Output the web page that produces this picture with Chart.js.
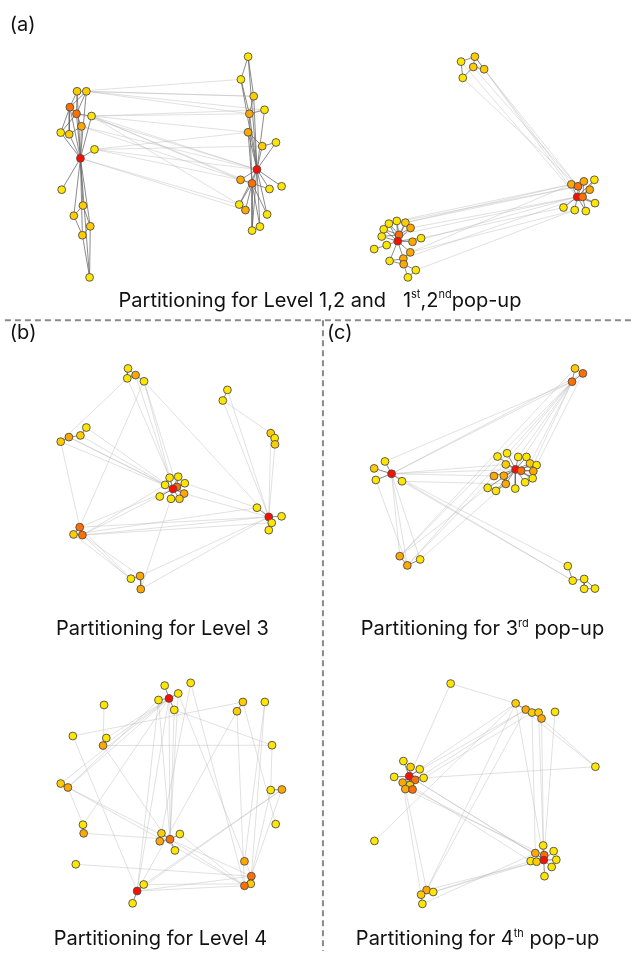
<!DOCTYPE html>
<html>
<head>
<meta charset="utf-8">
<script src="https://cdn.jsdelivr.net/npm/chart.js@4/dist/chart.umd.min.js"></script>
<style>
  html, body { margin: 0; padding: 0; background: #ffffff; }
  #wrap { width: 638px; height: 956px; position: relative; }
</style>
</head>
<body>
<div id="wrap"><canvas id="graph" width="638" height="956"></canvas></div>
<script>
// Node layouts: [x, y, level]; level 0 = leaf ... 4 = cluster head
const levelColors = ['#ffe600', '#ffcc00', '#ffa800', '#ff7000', '#ff0d00'];

// (a) Level 1,2 and 1st,2nd pop-up
const nodesA = [
  [73.3,87.3,1],[82.7,87.3,1],[66,103.3,3],[72.7,110,3],[88,112.3,0],[77.7,122.7,2],[56.7,129,0],[65.3,130.7,1],
  [91,146,0],[76.7,155,4],[57.7,186.7,0],[79.3,202.7,1],[70,213,1],[86.7,223.7,1],[78.7,232.7,1],[86,275.3,0],
  [247,52.3,0],[239.7,75.3,0],[252.7,92.3,1],[248.3,110,2],[263.7,106,0],[247,128.7,2],[261.3,142.7,1],[275.3,139,0],
  [256,166.3,4],[239.3,176.7,2],[251,180.3,3],[268.7,186,0],[281,183.3,0],[238,201.7,0],[244.3,207.3,2],[266.3,211.7,0],
  [259,224,0],[251,228,0],
  [463.3,57.3,0],[477.3,52.3,1],[475.7,62.7,1],[486.7,65,1],[465,73.7,0],
  [575.3,181.3,2],[582,183.3,3],[588,178.3,2],[598.7,176.7,0],[594,186.7,2],[581.3,194,4],[586.7,194,3],[599.3,200.3,0],
  [567.3,204.7,0],[578.7,207.3,0],[590,208.3,0],
  [398,218.3,0],[390,221,0],[406.7,220,1],[384.7,226.7,0],[412,225.3,2],[382.7,234,0],[400.3,232.3,3],[422.7,235.7,0],
  [399,238.7,4],[414,239.3,2],[387.7,242.7,0],[375,246.7,0],[411.7,250,2],[404.7,256.3,2],[390.7,258.7,0],[405,262,2],
  [417.3,268,0],[409.3,275.3,0]
];
const strongA = [
  [9,0],[9,1],[9,2],[9,3],[9,4],[9,5],[9,6],[9,7],[9,8],[9,10],[9,11],[9,12],[9,13],[9,14],[9,15],
  [0,3],[1,3],[1,2],[3,4],[2,3],[2,6],[2,7],[3,6],[3,5],[5,7],[11,12],[11,13],[12,14],[13,14],[13,15],[14,15],[0,2],
  [16,17],[16,18],[16,24],[17,24],[18,24],[19,24],[20,24],[20,19],[21,24],[22,24],[23,24],[22,23],[24,25],[24,26],
  [24,27],[24,28],[24,29],[26,25],[26,27],[26,29],[26,30],[26,31],[26,32],[26,33],[24,32],[24,33],[24,31],[21,22],
  [18,19],[17,19],[26,21],[26,19],
  [34,35],[34,38],[35,36],[35,37],[36,37],[36,38],
  [44,39],[44,40],[44,41],[44,42],[44,43],[44,45],[44,46],[44,47],[44,48],[44,49],[45,41],[45,42],[45,43],[45,46],
  [45,49],[40,39],[40,41],
  [58,50],[58,51],[58,52],[58,53],[58,54],[58,55],[58,56],[58,57],[58,59],[58,60],[58,62],[58,63],[58,64],
  [56,50],[56,51],[56,52],[56,53],[56,54],[56,55],[60,61],[62,63],[63,65],[63,64],[65,66],[65,67],[66,67],[64,65]
];
const weakA = [
  [1,18],[1,19],[4,19],[4,21],[4,24],[4,25],[4,26],[8,21],[8,24],[9,29],[5,26],[3,24],[0,17],[8,22],
  [1,20],[4,20],[8,25],[9,30],[5,24],[4,29],[0,18],
  [35,39],[36,40],[37,44],[38,40],[34,44],[37,40],
  [50,39],[52,40],[54,44],[57,47],[59,44],[62,39],[63,45],[56,44],[52,41],[66,48],[62,48],[51,40]
];

// (b) Level 3
const nodesB = [
  [125,367.3,0],[124.3,377.3,0],[132.7,374,2],[141.3,380.3,0],[226,389,0],[221.3,399.7,0],[82.7,427,0],[76.7,435,1],
  [65,436.7,2],[56.7,441.3,1],[270,432.7,1],[274,437.7,0],[274.3,444,1],[167.3,477.7,0],[176,476.7,0],[162.7,485,0],
  [182.7,483.3,0],[174.7,487,3],[170.7,489,4],[182,493.7,2],[157.3,496.7,0],[168.7,499,0],[177.3,499,1],[256,508,0],
  [268,517.3,4],[281,516.7,0],[271,523.3,0],[268,530.7,0],[76,527.7,3],[69.7,535,1],[78.7,535.7,3],[137.3,577,2],
  [128,579.7,0],[138,590.3,2]
];
const strongB = [
  [0,1],[1,2],[2,3],[0,2],[4,5],[6,7],[7,8],[8,9],[10,11],[11,12],[18,13],[18,14],[18,15],[18,16],[18,17],[18,19],
  [18,20],[18,21],[18,22],[17,16],[17,19],[17,14],[24,23],[24,25],[24,26],[26,27],[28,29],[28,30],[29,30],[31,32],[31,33]
];
const weakB = [
  [1,9],[3,28],[3,24],[2,18],[3,18],[3,17],[1,13],[9,28],[6,18],[7,18],[9,18],[8,15],[8,18],[5,24],[4,24],[5,10],
  [12,24],[10,24],[28,18],[30,15],[30,18],[30,24],[28,24],[29,23],[30,26],[30,31],[30,33],[28,32],[31,24],[33,24],
  [21,33],[19,24],[16,23],[29,32]
];

// (c) 3rd pop-up
const nodesC = [
  [579,367.3,1],[587,372.3,3],[576,380.7,3],[386,461.3,0],[375,468.3,1],[392.7,473.7,4],[376.7,480,0],[403.3,481.3,0],
  [500.3,456.3,0],[510,453,0],[521.3,456.7,0],[529.7,456.7,0],[508.7,464.3,1],[533.3,463.3,1],[540,465,0],[518.7,469.3,4],
  [524.3,470.7,3],[536.7,471,2],[496.7,476,2],[506.7,475.7,2],[536,478.3,0],[528.3,482.3,0],[508.7,484,2],[490.3,488,0],
  [498.7,491,0],[518.3,488.7,0],[401,557,2],[408.7,566.3,2],[421.7,560.3,0],[571.7,567,0],[576.7,581.7,0],[588.3,580,0],
  [588.3,590,0],[599.3,589.7,0]
];
const strongC = [
  [0,1],[0,2],[1,2],[5,3],[5,4],[5,6],[5,7],[15,8],[15,9],[15,10],[15,11],[15,12],[15,13],[15,14],[15,16],[15,17],
  [15,18],[15,19],[15,20],[15,21],[15,22],[15,23],[15,24],[15,25],[16,13],[16,17],[16,20],[19,22],[22,24],[26,27],
  [27,28],[29,30],[30,31],[31,32],[32,33],[31,33]
];
const weakC = [
  [2,3],[2,5],[1,5],[2,15],[2,10],[2,13],[1,14],[2,18],[2,26],[2,27],[0,26],[5,15],[5,18],[7,22],[5,12],[5,26],
  [5,27],[5,28],[6,27],[5,29],[7,30],[5,30],[26,23],[28,22],[27,18],[2,21]
];

// (b) Level 4
const nodesD = [
  [162.3,687.7,0],[188.7,685,0],[176,695.7,0],[166.7,700.7,4],[156,702.3,0],[172,712.3,0],[100.7,707.3,0],[241.7,704.3,1],
  [264,704.3,0],[235.7,713.7,1],[69,738.7,0],[103,740.7,0],[99.7,748.3,2],[271.3,748,0],[56.7,786.7,1],[64,790.7,2],
  [270,793.3,0],[281.3,792.7,2],[275,827.7,0],[79.3,828.3,0],[80,837,2],[159,837,1],[177.7,837.7,0],[167.7,843,3],
  [157.3,845,2],[172.7,854.3,0],[72,868.3,0],[243.3,865.3,2],[250.3,880.3,3],[249.7,888,1],[243.3,890,3],[141,888.7,0],
  [134.3,895.3,4],[129.7,907.7,0]
];
const strongD = [
  [3,0],[3,2],[3,4],[3,5],[7,9],[16,17],[14,15],[11,12],[19,20],[23,21],[23,22],[23,24],[23,25],[28,29],[29,30],
  [28,30],[32,31],[32,33]
];
const weakD = [
  [6,12],[10,7],[10,32],[12,13],[3,14],[3,15],[4,15],[15,23],[15,19],[15,30],[3,19],[3,23],[5,23],[2,23],[4,23],
  [3,32],[4,32],[1,30],[1,24],[2,28],[9,32],[8,27],[8,28],[9,30],[7,18],[5,13],[13,16],[17,32],[17,31],[17,28],
  [16,28],[26,28],[20,23],[23,28],[23,30],[22,30],[32,30],[32,28],[31,29],[12,25],[11,3],[12,3]
];

// (c) 4th pop-up
const nodesE = [
  [452.7,685.7,0],[518.7,705.7,1],[529,712,2],[535.3,715,1],[542,715,1],[545,721,2],[558.7,714.3,0],[599.7,769.7,0],
  [404.7,764,0],[412,770,1],[421.3,772.3,0],[395.3,780,0],[410.7,779.3,4],[416.7,783,3],[425.3,781,0],[404,785.7,2],
  [411.3,788.3,1],[406.7,792.3,2],[414,792.7,3],[375.3,844.7,0],[546.7,849.3,0],[538.7,857,2],[557.3,855,0],[547.7,859,3],
  [534,865,0],[540,865.7,1],[547.3,864,4],[560,863.7,0],[555.3,871,0],[548,880.3,0],[428.3,894.3,2],[435,896.3,0],
  [422.7,899,1],[424,908.3,0]
];
const strongE = [
  [1,2],[2,3],[3,4],[4,5],[12,8],[12,9],[12,10],[12,11],[12,13],[12,14],[12,15],[12,16],[12,17],[12,18],[26,20],
  [26,21],[26,22],[26,23],[26,24],[26,25],[26,27],[26,28],[26,29],[30,31],[30,32],[32,33],[13,18],[15,17]
];
const weakE = [
  [0,1],[0,12],[1,7],[14,7],[1,12],[2,12],[3,14],[2,13],[1,19],[1,30],[2,30],[4,26],[5,26],[6,26],[3,21],[1,26],
  [12,26],[13,26],[18,21],[16,24],[17,23],[17,30],[15,32],[30,26],[31,24],[31,25],[33,21],[5,7]
];

// Captions: [text, superscript?]
const captionA = [['Partitioning for Level 1,2 and   1', false], ['st', true], [',2', false], ['nd', true], ['pop-up', false]];
const captionB = [['Partitioning for Level 3', false]];
const captionC = [['Partitioning for 3', false], ['rd', true], [' pop-up', false]];
const captionD = [['Partitioning for Level 4', false]];
const captionE = [['Partitioning for 4', false], ['th', true], [' pop-up', false]];
const panelTags = ['(a)', '(b)', '(c)'];

const panels = [
  [nodesA, strongA, weakA], [nodesB, strongB, weakB], [nodesC, strongC, weakC],
  [nodesD, strongD, weakD], [nodesE, strongE, weakE]
];

function toPoints(list) {
  return list.map(n => ({ x: n[0], y: n[1], level: n[2] }));
}
function toSegments(list, pairs) {
  const out = [];
  pairs.forEach(([a, b]) => {
    out.push({ x: list[a][0], y: list[a][1] }, { x: list[b][0], y: list[b][1] }, { x: null, y: null });
  });
  return out;
}

let allNodes = [], allStrong = [], allWeak = [];
panels.forEach(([n, s, w]) => {
  allNodes = allNodes.concat(toPoints(n));
  allStrong = allStrong.concat(toSegments(n, s));
  allWeak = allWeak.concat(toSegments(n, w));
});

const FONT = 'Inter, "Noto Sans", sans-serif';

function drawCaption(ctx, parts, cx, baseline, size) {
  const big = size + 'px ' + FONT;
  const small = Math.round(size * 0.55) + 'px ' + FONT;
  let w = 0;
  parts.forEach(p => { ctx.font = p[1] ? small : big; w += ctx.measureText(p[0]).width; });
  let x = cx - w / 2;
  parts.forEach(p => {
    ctx.font = p[1] ? small : big;
    ctx.fillText(p[0], x, p[1] ? baseline - size * 0.42 : baseline);
    x += ctx.measureText(p[0]).width;
  });
}

const decorations = {
  id: 'decorations',
  beforeDatasetsDraw(chart) {
    const { ctx, scales: { x, y } } = chart;
    ctx.save();
    ctx.strokeStyle = '#8a8a8a';
    ctx.lineWidth = 2;
    ctx.setLineDash([6, 4]);
    ctx.beginPath();
    ctx.moveTo(x.getPixelForValue(0), y.getPixelForValue(318.5));
    ctx.lineTo(x.getPixelForValue(638), y.getPixelForValue(318.5));
    ctx.moveTo(x.getPixelForValue(323), y.getPixelForValue(318.5));
    ctx.lineTo(x.getPixelForValue(323), y.getPixelForValue(956));
    ctx.stroke();
    ctx.restore();
  },
  afterDraw(chart) {
    const { ctx, scales: { x, y } } = chart;
    ctx.save();
    ctx.fillStyle = '#111111';
    ctx.textBaseline = 'alphabetic';
    ctx.textAlign = 'left';
    ctx.font = '20px ' + FONT;
    ctx.fillText(panelTags[0], x.getPixelForValue(5), y.getPixelForValue(26));
    ctx.fillText(panelTags[1], x.getPixelForValue(5), y.getPixelForValue(338));
    ctx.fillText(panelTags[2], x.getPixelForValue(327), y.getPixelForValue(338));
    drawCaption(ctx, captionA, x.getPixelForValue(320), y.getPixelForValue(305), 20);
    drawCaption(ctx, captionB, x.getPixelForValue(160), y.getPixelForValue(637), 20);
    drawCaption(ctx, captionC, x.getPixelForValue(485), y.getPixelForValue(637), 20);
    drawCaption(ctx, captionD, x.getPixelForValue(158), y.getPixelForValue(950), 20);
    drawCaption(ctx, captionE, x.getPixelForValue(480), y.getPixelForValue(950), 20);
    ctx.restore();
  }
};

new Chart(document.getElementById('graph'), {
  type: 'scatter',
  data: {
    datasets: [
      {
        label: 'nodes',
        data: allNodes,
        order: 0,
        pointRadius: 3.9,
        pointBorderWidth: 0.9,
        pointBorderColor: '#4d4d4d',
        pointBackgroundColor: c => levelColors[c.raw ? c.raw.level : 0]
      },
      {
        type: 'line',
        label: 'intra-cluster',
        data: allStrong,
        order: 1,
        borderColor: 'rgba(100,100,100,0.75)',
        borderWidth: 1,
        pointRadius: 0,
        spanGaps: false,
        fill: false,
        tension: 0
      },
      {
        type: 'line',
        label: 'inter-cluster',
        data: allWeak,
        order: 2,
        borderColor: 'rgba(175,175,175,0.38)',
        borderWidth: 1,
        pointRadius: 0,
        spanGaps: false,
        fill: false,
        tension: 0
      }
    ]
  },
  options: {
    responsive: false,
    animation: false,
    devicePixelRatio: 1,
    layout: { padding: 0 },
    events: [],
    plugins: { legend: { display: false }, tooltip: { enabled: false } },
    scales: {
      x: { type: 'linear', min: 0, max: 638, display: false },
      y: { type: 'linear', min: 0, max: 956, reverse: true, display: false }
    }
  },
  plugins: [decorations]
});
</script>
</body>
</html>
